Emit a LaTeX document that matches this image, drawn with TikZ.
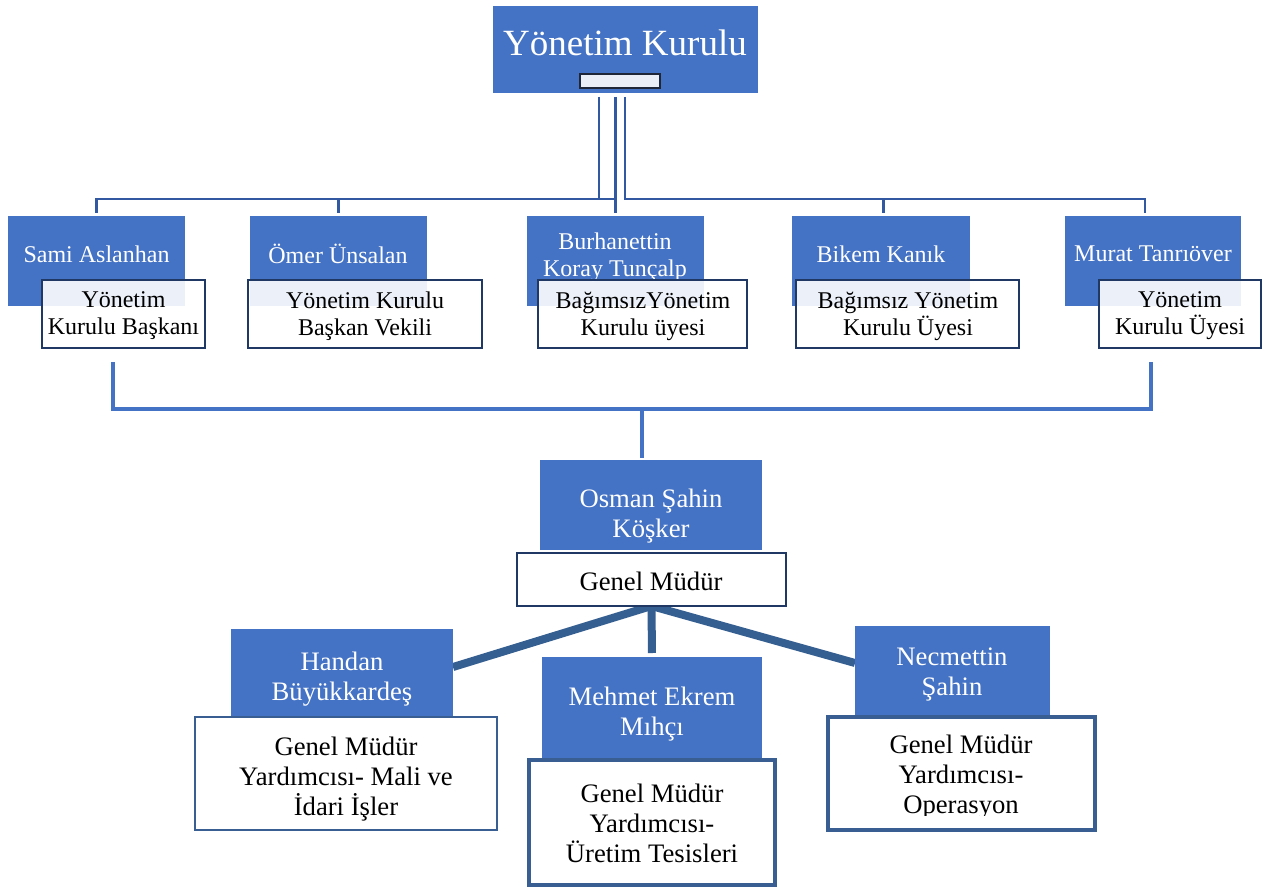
\documentclass[tikz,border=0pt]{standalone}
\usepackage{fontspec}
\setmainfont{Liberation Serif}
\usetikzlibrary{calc}
\definecolor{bluefill}{RGB}{68,114,196}
\definecolor{navy}{RGB}{32,56,100}
\definecolor{topline}{RGB}{50,88,162}
\definecolor{thickline}{RGB}{54,95,145}
\definecolor{lowborder}{RGB}{56,94,146}
\definecolor{innerfill}{RGB}{233,238,247}
\definecolor{innerdraw}{RGB}{30,38,55}
\pgfdeclarelayer{bg}
\pgfsetlayers{bg,main}
\begin{document}
\begin{tikzpicture}[x=0.75pt,y=-0.75pt,
  bluebox/.style={fill=bluefill, draw=none, inner sep=0pt, outer sep=0pt},
  wbox/.style={fill=white, fill opacity=0.9, text opacity=1, draw=navy, draw opacity=1, line width=1.9pt, inner sep=0pt, outer sep=0pt},
  gbox/.style={fill=white, draw=navy, line width=2pt, inner sep=0pt, outer sep=0pt},
  lbox/.style={fill=white, draw=lowborder, line width=1.9pt, inner sep=0pt, outer sep=0pt},
  lboxthick/.style={fill=white, draw=lowborder, line width=3.4pt, inner sep=0pt, outer sep=0pt},
  nm/.style={text=white, font=\fontsize{18}{20.25}\selectfont, align=center, inner sep=0pt},
  rl/.style={text=black, font=\fontsize{18}{20.25}\selectfont, align=center, inner sep=0pt},
  nmL/.style={text=white, font=\fontsize{20}{22.5}\selectfont, align=center, inner sep=0pt},
  rlL/.style={text=black, font=\fontsize{20}{22.5}\selectfont, align=center, inner sep=0pt},
  tl/.style={draw=topline, line width=2pt},
  ml/.style={draw=bluefill, line width=3pt},
  tk/.style={draw=thickline, line width=6pt}
]
\useasboundingbox (0,0) rectangle (1266,888);

% top box
\node[bluebox, minimum width=198.75pt, minimum height=65.25pt] (top) at (625.5,49.5) {};
\node[fill=innerfill, draw=innerdraw, line width=1.8pt, inner sep=0pt, minimum width=60pt, minimum height=10.5pt] (topinner) at (620,81) {};
\node[text=white, font=\fontsize{27.75}{30}\selectfont, inner sep=0pt] (toptext) at (625,42.5) {Yönetim Kurulu};

% row 1 blue boxes
\node[bluebox, minimum width=132.75pt, minimum height=67.5pt] (sami) at (96.5,261) {};
\node[bluebox, minimum width=132.75pt, minimum height=67.5pt] (omer) at (338.5,261) {};
\node[bluebox, minimum width=132.75pt, minimum height=67.5pt] (burh) at (615.5,261) {};
\node[bluebox, minimum width=133.5pt, minimum height=67.5pt] (bikem) at (881,261) {};
\node[bluebox, minimum width=132pt, minimum height=67.5pt] (murat) at (1153,261) {};
\node[nm] (samit) at (96.5,254.5) {Sami Aslanhan};
\node[nm] (omert) at (338,254) {Ömer Ünsalan};
\node[nm] (burht) at (615,257) {Burhanettin\\Koray Tunçalp};
\node[nm] (bikemt) at (881,254) {Bikem Kanık};
\node[nm] (muratt) at (1153,254) {Murat Tanrıöver};

% row 1 white boxes
\node[wbox, minimum width=122.25pt, minimum height=51pt] (samiw) at (123.5,314) {};
\node[wbox, minimum width=175.5pt, minimum height=51pt] (omerw) at (365,314) {};
\node[wbox, minimum width=156.75pt, minimum height=51pt] (burhw) at (642.5,314) {};
\node[wbox, minimum width=167.25pt, minimum height=51pt] (bikemw) at (907.5,314) {};
\node[wbox, minimum width=121.5pt, minimum height=51pt] (muratw) at (1180,314) {};
\node[rl] (samiwt) at (123.5,316) {Yönetim\\Kurulu Başkanı};
\node[rl] (omerwt) at (365,316) {Yönetim Kurulu\\Başkan Vekili};
\node[rl] (burhwt) at (643,316) {BağımsızYönetim\\Kurulu üyesi};
\node[rl] (bikemwt) at (908,316) {Bağımsız Yönetim\\Kurulu Üyesi};
\node[rl] (muratwt) at (1180,316) {Yönetim\\Kurulu Üyesi};

% general manager
\node[bluebox, minimum width=166.5pt, minimum height=67.5pt] (osman) at (651,505) {};
\node[nmL] (osmant) at (651,516) {Osman Şahin\\Köşker};
\node[gbox, minimum width=201.75pt, minimum height=39.75pt] (genel) at (651.5,579.5) {};
\node[rlL] (genelt) at (651,581) {Genel Müdür};

% bottom row
\node[bluebox, minimum width=166.5pt, minimum height=66pt] (handan) at (342,673) {};
\node[nmL] (handant) at (342,679) {Handan\\Büyükkardeş};
\node[lbox, minimum width=226.5pt, minimum height=84.75pt] (handanw) at (346,773.5) {};
\node[rlL] (handanwt) at (346,779) {Genel Müdür\\Yardımcısı- Mali ve\\İdari İşler};

\node[bluebox, minimum width=165pt, minimum height=77.25pt] (mehmet) at (652,708.5) {};
\node[nmL] (mehmett) at (652,714) {Mehmet Ekrem\\Mıhçı};
\node[lboxthick, minimum width=184.5pt, minimum height=93.75pt] (mehmetw) at (652,822.5) {};
\node[rlL] (mehmetwt) at (652,823) {Genel Müdür\\Yardımcısı-\\Üretim Tesisleri};

\node[bluebox, minimum width=146.25pt, minimum height=69pt] (necm) at (952.5,672) {};
\node[nmL] (necmt) at (952,675) {Necmettin\\Şahin};
\node[lboxthick, minimum width=200.25pt, minimum height=84.75pt] (necmw) at (961.5,773.5) {};
\begin{scope}
\clip (830,719) rectangle (1093,815);
\node[rlL] (necmwt) at (961,777) {Genel Müdür\\Yardımcısı-\\Operasyon};
\end{scope}

% connectors
\begin{pgfonlayer}{bg}
\coordinate (jL) at (599,199);
\coordinate (jR) at (625,199);
\draw[tl, shorten <=3pt] (top.south -| jL) -- (jL) -| ([yshift=2pt]sami.north);
\draw[tl] (jL) -| ([yshift=2pt]omer.north);
\draw[tl, shorten <=3pt] (top.south -| burh.north) -- ([yshift=2pt]burh.north);
\draw[tl] (jL) -- (jL -| burh.north);
\draw[tl, shorten <=3pt] (top.south -| jR) -- (jR) -| ([xshift=-6pt,yshift=2pt]murat.north);
\draw[tl] (jR) -| ([xshift=2pt,yshift=2pt]bikem.north);

\coordinate (mL) at ($(samiw.south)+(-10.5,14)$);
\coordinate (mR) at ($(muratw.south)+(-29,14)$);
\coordinate (mJ) at (642,409);
\draw[ml] (mL) |- (mJ) -| (mR);
\draw[ml] (mJ) -- ([yshift=1.5pt]osman.north -| mJ);

\draw[tk] (genel.south) -- (handan.north east |- 0,667);
\draw[tk, shorten >=3pt] (genel.south) -- (mehmet.north);
\draw[tk] (genel.south) -- (necm.north west |- 0,663);
\end{pgfonlayer}
\end{tikzpicture}
\end{document}
